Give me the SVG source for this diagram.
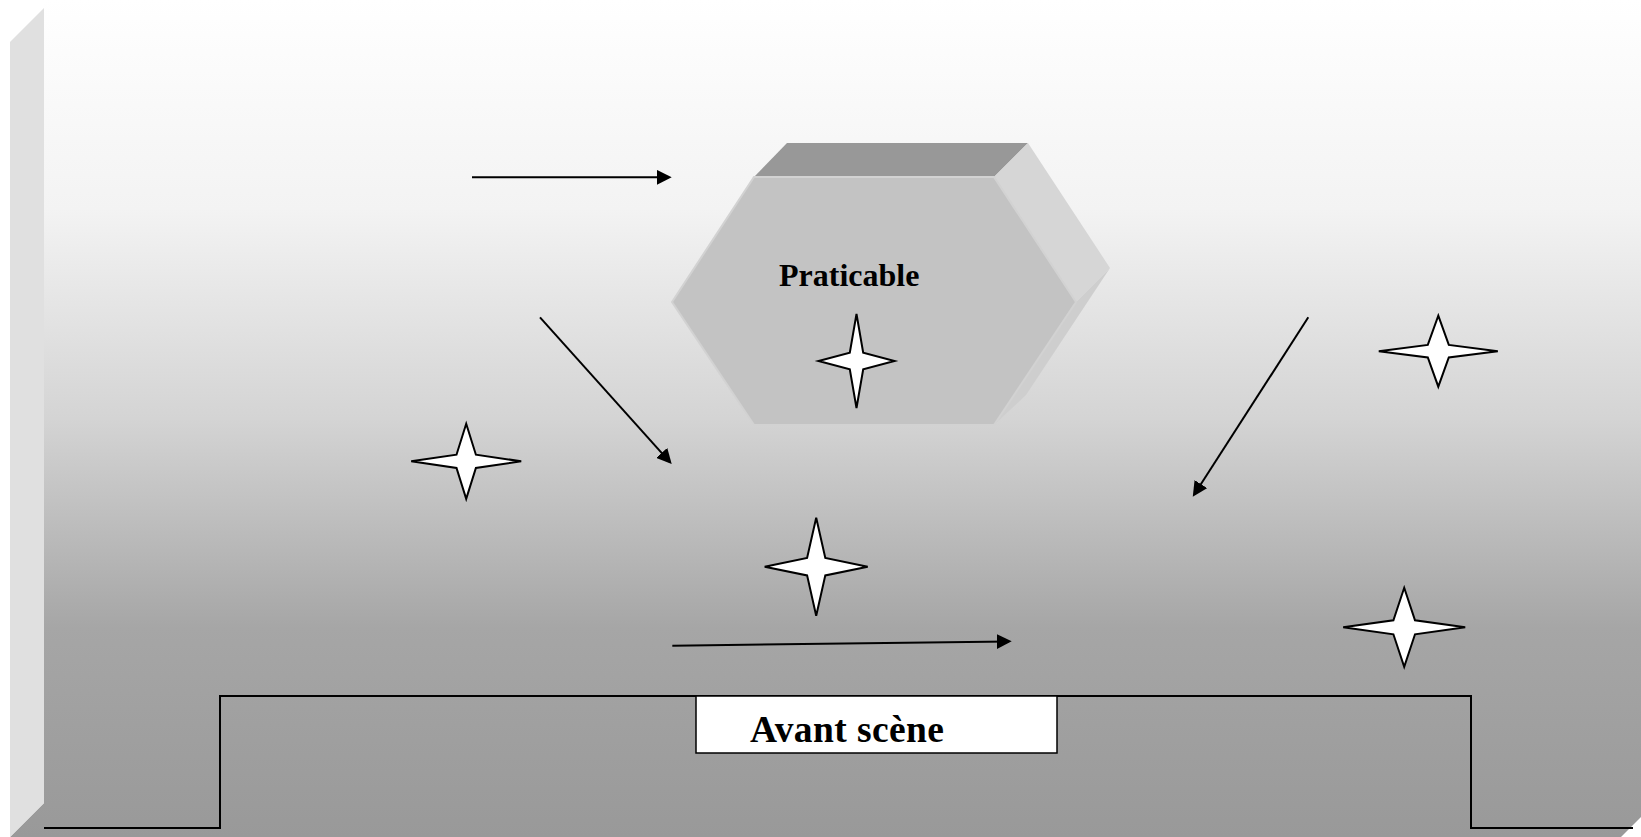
<svg xmlns="http://www.w3.org/2000/svg" width="1641" height="837" viewBox="0 0 1641 837">
  <defs>
    <linearGradient id="stageGrad" gradientUnits="userSpaceOnUse" x1="0" y1="0" x2="0" y2="837">
      <stop offset="0" stop-color="#ffffff"/>
      <stop offset="0.25" stop-color="#f3f3f3"/>
      <stop offset="0.5" stop-color="#d4d4d4"/>
      <stop offset="0.75" stop-color="#a6a6a6"/>
      <stop offset="1" stop-color="#999999"/>
    </linearGradient>
    <marker id="arrow" viewBox="0 0 10 10" refX="8" refY="5" markerWidth="7.5" markerHeight="7.5" markerUnits="strokeWidth" orient="auto">
      <path d="M0,0 L10,5 L0,10 Z" fill="#000"/>
    </marker>
  </defs>
  <style>
    .move { fill: none; stroke: #000; stroke-width: 2; marker-end: url(#arrow); }
    .star { fill: #fff; stroke: #000; stroke-width: 2; stroke-linejoin: miter; }
    .label { font-family: "Liberation Serif", "Times New Roman", serif; font-weight: bold; fill: #000; }
  </style>

  <!-- stage box: back wall with left side panel -->
  <g id="stage">
    <rect x="0" y="0" width="1641" height="837" fill="#ffffff"/>
    <path d="M44,0 H1641 V817 L1621,837 H10 L44,803 Z" fill="url(#stageGrad)"/>
    <path d="M10,42 L44,8 V803 L10,837 Z" fill="#e0e0e0"/>
    <polyline points="44,828 220,828 220,696 1471,696 1471,828 1633,828" fill="none" stroke="#000" stroke-width="2"/>
  </g>

  <!-- raised platform (hexagonal prism) -->
  <g id="praticable">
    <polygon points="754,177 787,143 1028,143 994,177" fill="#989898"/>
    <polygon points="994,177 1028,143 1110,268 1076,302" fill="#d6d6d6"/>
    <polygon points="1076,302 1110,268 1026,395 994,425" fill="#cecece"/>
    <polygon points="672,302 754,177 994,177 1076,302 994,425 754,425" fill="#c3c3c3" stroke="#d2d2d2" stroke-width="2"/>
    <text class="label" x="779" y="286" font-size="32">Praticable</text>
  </g>

  <!-- front of stage -->
  <g id="avant-scene">
    <rect x="696" y="696" width="361" height="57" fill="#ffffff" stroke="#000" stroke-width="1.5"/>
    <text class="label" x="750" y="742" font-size="37.5" letter-spacing="0.4">Avant scène</text>
  </g>

  <!-- actor positions (four-pointed stars) -->
  <g id="star-platform"><polygon class="star" points="856.5,314 863.2,352.7 894.5,361 863.2,369.3 856.5,408 849.8,369.3 818.5,361 849.8,352.7"/></g>
  <g id="star-left"><polygon class="star" points="466.2,423.8 475.9,454.7 521.2,461.3 475.9,467.9 466.2,498.8 456.5,467.9 411.2,461.3 456.5,454.7"/></g>
  <g id="star-top-right"><polygon class="star" points="1438.3,315.7 1448.8,344.9 1497.8,351.2 1448.8,357.5 1438.3,386.7 1427.8,357.5 1378.8,351.2 1427.8,344.9"/></g>
  <g id="star-bottom-right"><polygon class="star" points="1404.2,587.8 1415,620.3 1465.2,627.3 1415,634.3 1404.2,666.8 1393.4,634.3 1343.2,627.3 1393.4,620.3"/></g>
  <g id="star-centre"><polygon class="star" points="816.2,517.7 825.3,558 867.7,566.7 825.3,575.4 816.2,615.7 807.1,575.4 764.7,566.7 807.1,558"/></g>

  <!-- movement arrows -->
  <g id="connectors">
    <line class="move" x1="472" y1="177.3" x2="668.7" y2="177.3"/>
    <line class="move" x1="540" y1="317.3" x2="669.7" y2="461.8"/>
    <line class="move" x1="1308.3" y1="317.3" x2="1194.4" y2="494.2"/>
    <line class="move" x1="672.3" y1="645.7" x2="1008.7" y2="641.4"/>
  </g>
</svg>
